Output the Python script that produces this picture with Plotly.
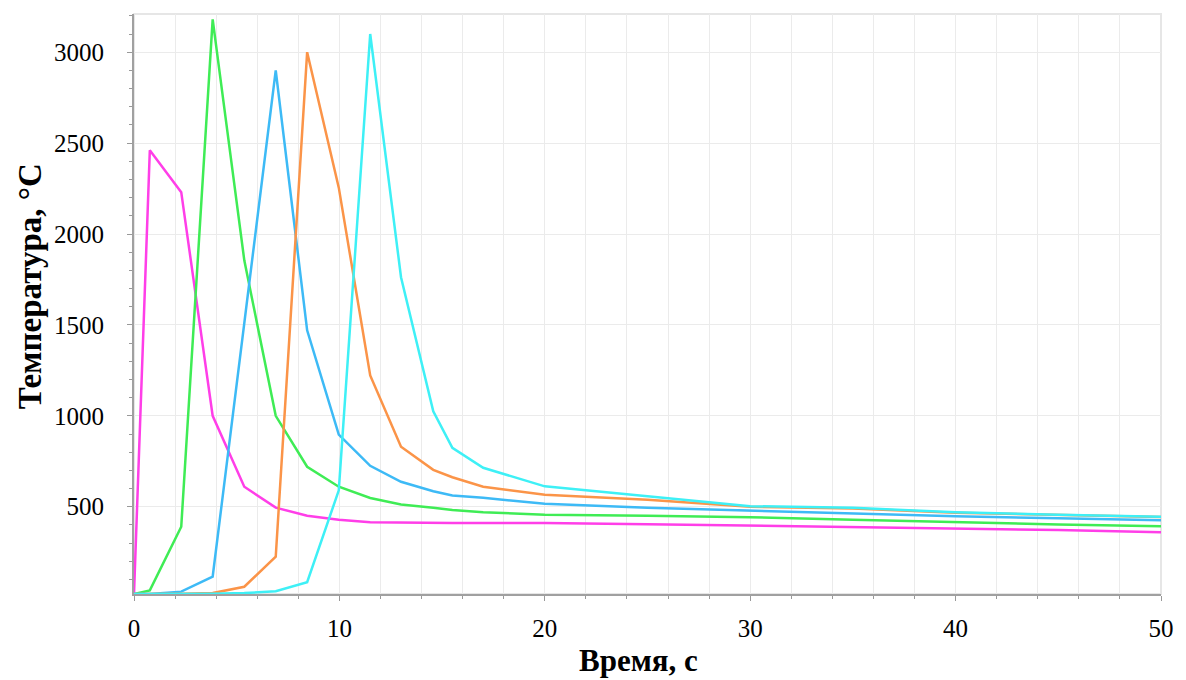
import plotly.graph_objects as go

# time points, s
time_s = [0, 0.77, 2.3, 3.83, 5.37, 6.9, 8.43, 9.97, 11.5, 13.0, 14.57, 15.5, 17.0, 20.0, 25, 30, 35, 40, 45, 50]

# temperatures, °C
temp_magenta = [20, 2460, 2230, 1000, 610, 495, 450, 428, 415, 412, 411, 411, 411, 410, 404, 396, 390, 384, 372, 359]
temp_green = [20, 40, 390, 3180, 1855, 1000, 720, 610, 548, 512, 494, 482, 470, 456, 450, 442, 428, 413, 402, 392]
temp_blue = [20, 20, 33, 115, 1510, 2900, 1470, 897, 725, 637, 585, 562, 549, 516, 495, 478, 462, 447, 436, 425]
temp_orange = [20, 20, 22, 25, 60, 225, 3000, 2255, 1222, 830, 703, 662, 610, 566, 538, 500, 490, 467, 455, 443]
temp_cyan = [20, 20, 20, 22, 25, 35, 85, 590, 3100, 1762, 1025, 824, 714, 612, 557, 503, 494, 469, 456, 445]

series = [
    (temp_magenta, "#ff3ee8"),
    (temp_green, "#3fec55"),
    (temp_blue, "#3dbaf6"),
    (temp_orange, "#fb9448"),
    (temp_cyan, "#3ef0f6"),
]

x_ticks = [0, 10, 20, 30, 40, 50]
y_ticks = [500, 1000, 1500, 2000, 2500, 3000]

SERIF = "Liberation Serif, Times New Roman, serif"

fig = go.Figure()
for vals, col in series:
    fig.add_trace(go.Scatter(x=time_s, y=vals, mode="lines",
                             line=dict(color=col, width=2.5), showlegend=False,
                             hoverinfo="skip"))

tick_font = dict(family=SERIF, size=25, color="black")

fig.update_layout(
    width=1186, height=680,
    font=dict(family=SERIF, color="black"),
    margin=dict(l=134, r=15, t=14, b=86),
    paper_bgcolor="white", plot_bgcolor="white",
    xaxis=dict(range=[0, 50], tickvals=x_ticks, ticktext=[str(v) for v in x_ticks],
               showgrid=True, gridcolor="#ebebeb", gridwidth=1,
               minor=dict(dtick=2, showgrid=True, gridcolor="#ebebeb", ticks="outside",
                          ticklen=3, tickcolor="#999999"),
               ticks="outside", ticklen=5, tickcolor="#999999",
               showline=True, linecolor="#a0a0a0", linewidth=2,
               zeroline=False, tickfont=tick_font, ticklabelstandoff=6),
    yaxis=dict(range=[20, 3210], tickvals=y_ticks, ticktext=[str(v) for v in y_ticks],
               showgrid=True, gridcolor="#ebebeb", gridwidth=1,
               minor=dict(dtick=100, tick0=0, showgrid=False, ticks="outside",
                          ticklen=3, tickcolor="#999999"),
               ticks="outside", ticklen=5, tickcolor="#999999",
               showline=True, linecolor="#a0a0a0", linewidth=2,
               zeroline=False, tickfont=tick_font, ticklabelstandoff=18),
    shapes=[dict(type="rect", xref="paper", yref="paper", x0=0, x1=1, y0=0, y1=1,
                 line=dict(color="#e6e6e6", width=2), layer="below")],
    annotations=[
        dict(text="<b>Время, с</b>", xref="paper", yref="paper",
             x=(640 - 134) / 1030, y=-(660 - 594) / 580, xanchor="center", yanchor="middle",
             showarrow=False, font=dict(family=SERIF, size=31, color="black")),
        dict(text="<b>Температура, °C</b>", xref="paper", yref="paper",
             x=-(134 - 30) / 1030, y=(594 - 286) / 580, xanchor="center", yanchor="middle",
             textangle=-90, showarrow=False,
             font=dict(family=SERIF, size=33, color="black")),
    ],
)

fig.write_html("out.html")
